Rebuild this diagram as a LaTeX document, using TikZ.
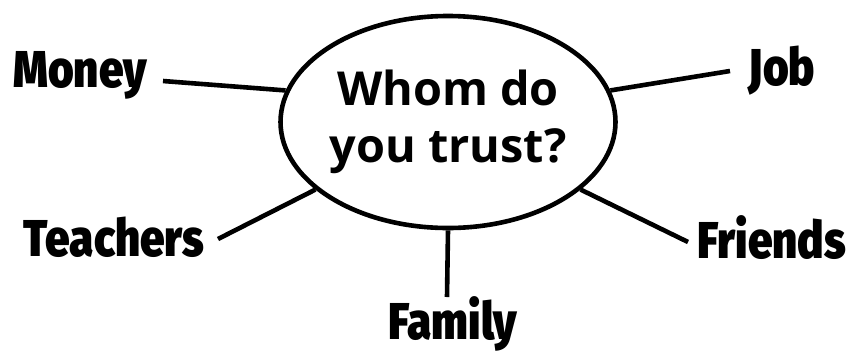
\documentclass[tikz,border=0pt]{standalone}
\usepackage{fontspec}
\setmainfont{Open Sans}
\newfontfamily\labfont{Fira Sans Black}
\usetikzlibrary{shapes.geometric}
\tikzset{
  conn/.style={line width=4.6bp, line cap=butt},
  lab/.style={anchor=base, inner sep=0pt, font=\labfont\fontsize{52}{52}\selectfont, xscale=0.85, transform shape},
}
\begin{document}
\begin{tikzpicture}[x=1bp,y=-1bp]
\useasboundingbox (0,0) rectangle (848,353);
\node[ellipse, draw, line width=4.6bp, minimum width=308bp, minimum height=212bp, inner sep=0pt,
      align=center, font=\bfseries\fontsize{47}{57}\selectfont] (c) at (448,122) {Whom do\\you trust?};
\node[lab] (money) at (80,87) {Money};
\node[lab] (job) at (782,85) {Job};
\node[lab] (teach) at (114,256) {Teachers};
\node[lab] (friends) at (772,258) {Friends};
\node[lab] (family) at (453,339) {Family};
\coordinate (mE) at (163,81);
\coordinate (jE) at (730,71);
\coordinate (tE) at (218,239);
\coordinate (fE) at (688,242);
\coordinate (faE) at (447,297);
\draw[conn] (mE) -- (c.169.6);
\draw[conn] (jE) -- (c.11.8);
\draw[conn] (tE) -- (c.207.3);
\draw[conn] (fE) -- (c.333.6);
\draw[conn] (faE) -- (c.270);
\end{tikzpicture}
\end{document}
